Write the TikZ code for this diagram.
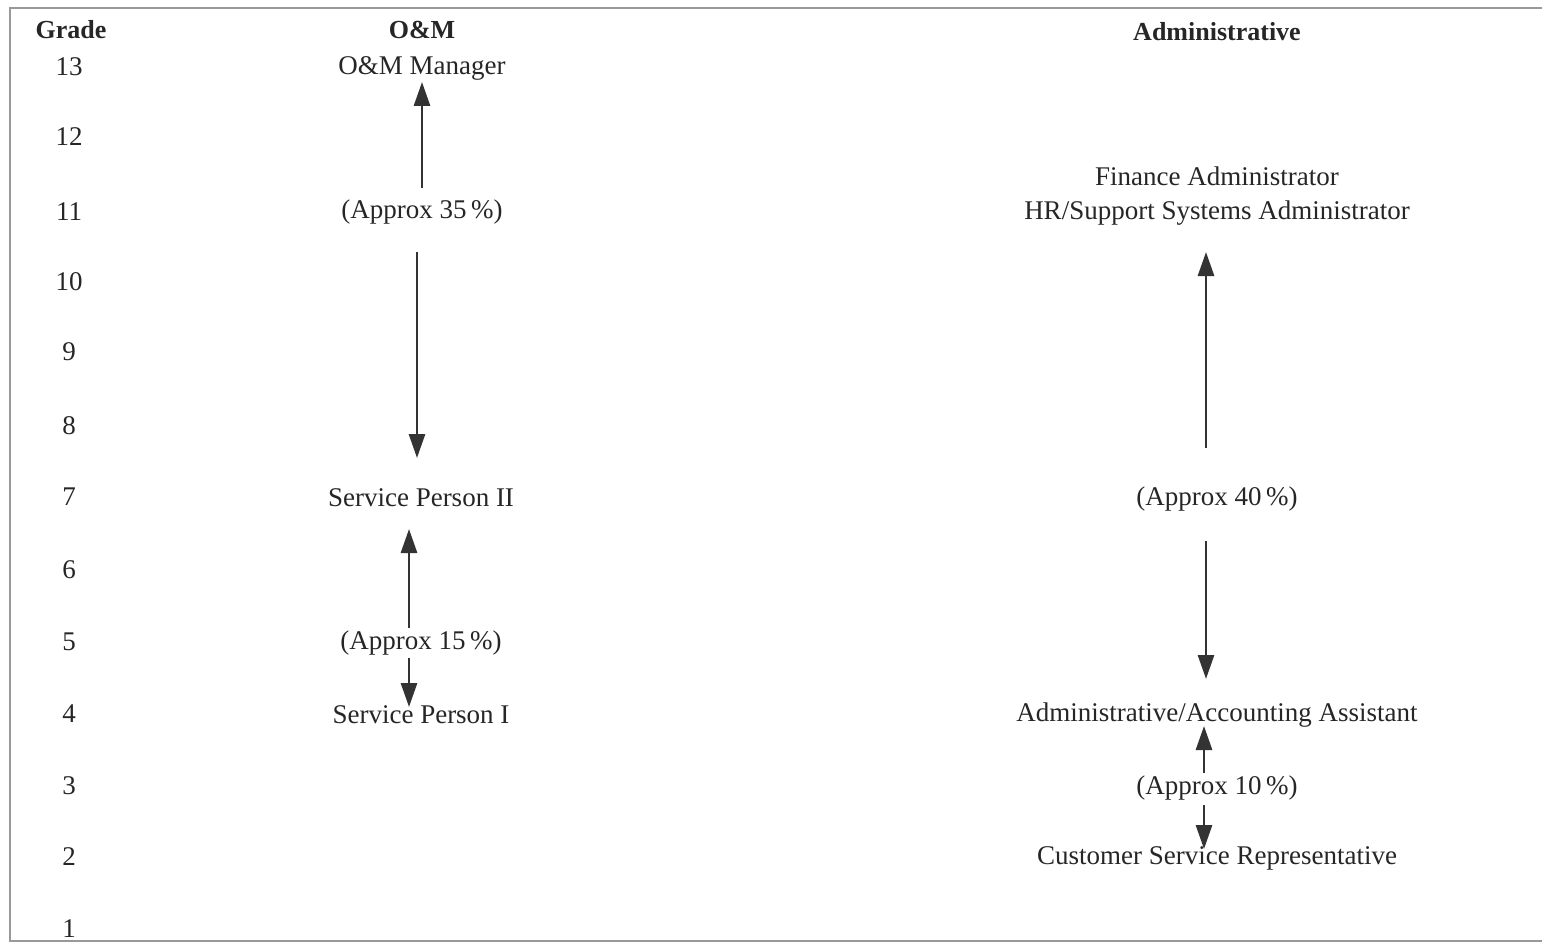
\documentclass[tikz,border=0pt]{standalone}
\usepackage{fontspec}
\setmainfont{Liberation Serif}
\usetikzlibrary{arrows.meta}
\begin{document}
\begin{tikzpicture}[x=1pt,y=-1pt,
  lbl/.style={inner sep=0pt,anchor=center,yshift=-2pt,font=\fontsize{27}{31}\selectfont,text=black!85},
  hdr/.style={lbl,font=\fontsize{26}{30}\selectfont\bfseries},
  arr/.style={draw=black!80,line width=2.8pt,-{Triangle[length=24pt,width=16pt]}},
  frame/.style={draw=black!40,line width=1.5pt}]
\useasboundingbox (0,0) rectangle (1542,944);
\draw[frame] (1542,8) -- (10,8) -- (10,941) -- (1542,941);
% grade column
\node[hdr] (grade) at (71,28) {Grade};
\foreach \g/\y in {13/65,12/135,11/210,10/280,9/350,8/424,7/495,6/568,5/640,4/712,3/784,2/855,1/927}
  \node[lbl] (g\g) at (69,\y) {\g};
% O&M column
\node[hdr] (om) at (422,28) {O\&M};
\node[lbl] (mgr) at (422,66) {O\&M Manager};
\node[lbl] (p35) at (422,210) {(Approx 35\,\%)};
\node[lbl] (sp2) at (421,496) {Service Person II};
\node[lbl] (p15) at (421,641) {(Approx 15\,\%)};
\node[lbl] (sp1) at (421,713) {Service Person I};
\coordinate (a1s) at (422,188); \coordinate (a1e) at (422,82);
\coordinate (a2s) at (417,252); \coordinate (a2e) at (417,458);
\coordinate (a3s) at (409,628); \coordinate (a3e) at (409,529);
\coordinate (a4s) at (409,658); \coordinate (a4e) at (409,707);
\draw[arr] (a1s) -- (a1e);
\draw[arr] (a2s) -- (a2e);
\draw[arr] (a3s) -- (a3e);
\draw[arr] (a4s) -- (a4e);
% Administrative column
\node[hdr] (adm) at (1217,30) {Administrative};
\node[lbl] (fin) at (1217,174) {Finance Administrator};
\node[lbl] (hr) at (1217,211) {HR/Support Systems Administrator};
\node[lbl] (p40) at (1217,497) {(Approx 40\,\%)};
\node[lbl] (aaa) at (1217,713) {Administrative/Accounting Assistant};
\node[lbl] (p10) at (1217,786) {(Approx 10\,\%)};
\node[lbl] (csr) at (1217,856) {Customer Service Representative};
\coordinate (b1s) at (1206,448); \coordinate (b1e) at (1206,252);
\coordinate (b2s) at (1206,541); \coordinate (b2e) at (1206,679);
\coordinate (b3s) at (1204,773); \coordinate (b3e) at (1204,726);
\coordinate (b4s) at (1204,805); \coordinate (b4e) at (1204,849);
\draw[arr] (b1s) -- (b1e);
\draw[arr] (b2s) -- (b2e);
\draw[arr] (b3s) -- (b3e);
\draw[arr] (b4s) -- (b4e);
\end{tikzpicture}
\end{document}
